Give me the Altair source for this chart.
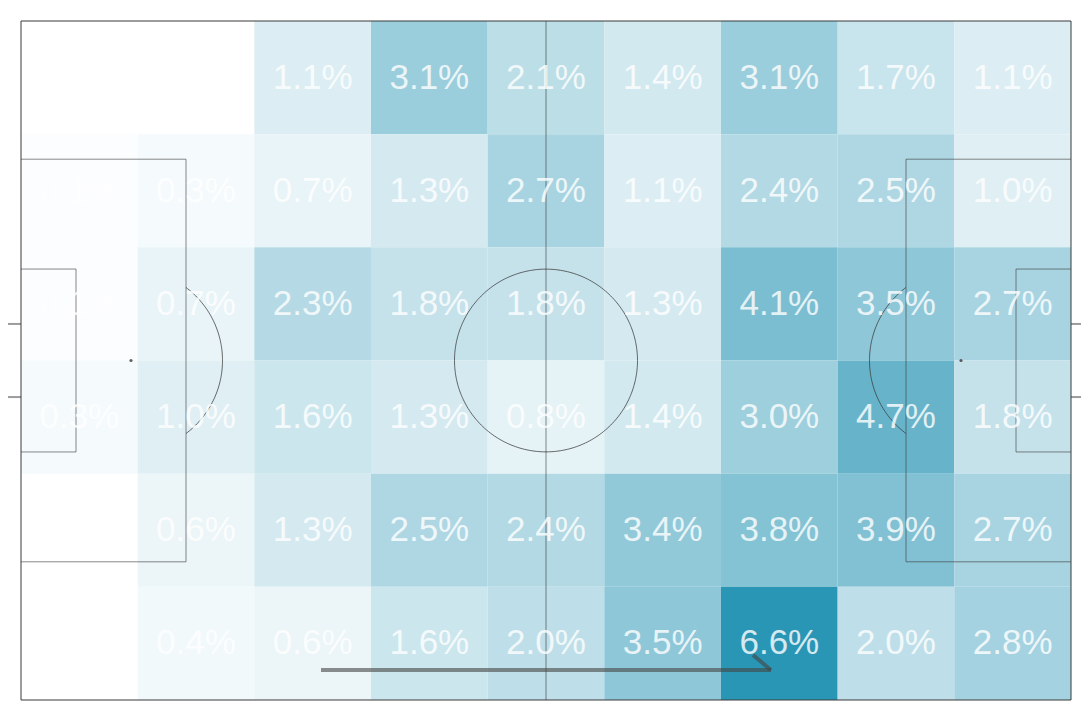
import altair as alt
import pandas as pd
import numpy as np

# ---- data: share of actions per zone (rows top->bottom, cols left->right), None = empty
row0 = [None, None, 1.1, 3.1, 2.1, 1.4, 3.1, 1.7, 1.1]
row1 = [0.1, 0.3, 0.7, 1.3, 2.7, 1.1, 2.4, 2.5, 1.0]
row2 = [0.1, 0.7, 2.3, 1.8, 1.8, 1.3, 4.1, 3.5, 2.7]
row3 = [0.3, 1.0, 1.6, 1.3, 0.8, 1.4, 3.0, 4.7, 1.8]
row4 = [None, 0.6, 1.3, 2.5, 2.4, 3.4, 3.8, 3.9, 2.7]
row5 = [None, 0.4, 0.6, 1.6, 2.0, 3.5, 6.6, 2.0, 2.8]
grid = [row0, row1, row2, row3, row4, row5]

# pitch dimensions (metres)
L, W = 105.0, 68.0
NC, NR = 9, 6

cells = []
for r, row in enumerate(grid):
    for c, v in enumerate(row):
        if v is None:
            continue
        cells.append({
            "x": c * L / NC, "x2": (c + 1) * L / NC,
            "y": r * W / NR, "y2": (r + 1) * W / NR,
            "xc": (c + 0.5) * L / NC, "yc": (r + 0.5) * W / NR,
            "v": v, "label": f"{v:.1f}%",
        })
cells = pd.DataFrame(cells)

xs = alt.Scale(domain=[0, L])
ys = alt.Scale(domain=[0, W], reverse=True)

heat = alt.Chart(cells).mark_rect(strokeWidth=0).encode(
    x=alt.X("x:Q", scale=xs, axis=None),
    x2="x2:Q",
    y=alt.Y("y:Q", scale=ys, axis=None),
    y2="y2:Q",
    color=alt.Color("v:Q", scale=alt.Scale(domain=[0, 6.6], range=["#ffffff", "#2a96b5"],
                                           interpolate="rgb"), legend=None),
)

# ---- pitch markings
def rect(x0, y0, x1, y1):
    return [(x0, y0, x1, y0), (x1, y0, x1, y1), (x1, y1, x0, y1), (x0, y1, x0, y0)]

outer = rect(0, 0, L, W)
outer += [(-1.8, 34 - 3.66, 0, 34 - 3.66), (-1.8, 34 + 3.66, 0, 34 + 3.66), (-1.8, 34 - 3.66, -1.8, 34 + 3.66)]
outer += [(L, 34 - 3.66, L + 1.8, 34 - 3.66), (L, 34 + 3.66, L + 1.8, 34 + 3.66), (L + 1.8, 34 - 3.66, L + 1.8, 34 + 3.66)]
inner = [(L / 2, 0, L / 2, W)]
inner += [s for s in rect(0, 34 - 20.16, 16.5, 34 + 20.16) if s[0] != 0 or s[2] != 0]
inner += [s for s in rect(L - 16.5, 34 - 20.16, L, 34 + 20.16) if s[0] != L or s[2] != L]
inner += [s for s in rect(0, 34 - 9.16, 5.5, 34 + 9.16) if s[0] != 0 or s[2] != 0]
inner += [s for s in rect(L - 5.5, 34 - 9.16, L, 34 + 9.16) if s[0] != L or s[2] != L]

def segs(lst):
    return pd.DataFrame(lst, columns=["x", "y", "x2", "y2"])

line_col = "#3a3a3a"

def rules(df, w, op):
    return alt.Chart(df).mark_rule(color=line_col, strokeWidth=w, opacity=op).encode(
        x=alt.X("x:Q", scale=xs), y=alt.Y("y:Q", scale=ys), x2="x2:Q", y2="y2:Q")

# circles / arcs
R = 9.15
curves = []
t = np.linspace(0, 2 * np.pi, 241)
for i, a in enumerate(t):
    curves.append({"g": "c", "o": i, "x": L / 2 + R * np.cos(a), "y": W / 2 + R * np.sin(a)})
lim = np.arccos(5.5 / R)
ta = np.linspace(-lim, lim, 80)
for i, a in enumerate(ta):
    curves.append({"g": "l", "o": i, "x": 11 + R * np.cos(a), "y": W / 2 + R * np.sin(a)})
    curves.append({"g": "r", "o": i, "x": L - 11 - R * np.cos(a), "y": W / 2 + R * np.sin(a)})
curves = pd.DataFrame(curves)

arcs = alt.Chart(curves).mark_line(color=line_col, strokeWidth=1, opacity=0.75).encode(
    x=alt.X("x:Q", scale=xs), y=alt.Y("y:Q", scale=ys), detail="g:N", order="o:Q")

spots = alt.Chart(pd.DataFrame({"x": [11, L - 11], "y": [34, 34]})).mark_point(
    filled=True, size=10, color=line_col, opacity=0.8).encode(
    x=alt.X("x:Q", scale=xs), y=alt.Y("y:Q", scale=ys))

# direction-of-play arrow
arrow = segs([(30, 65, 75, 65), (75, 65, 73.2, 63.5)])
arrow_l = alt.Chart(arrow).mark_rule(color="#444444", strokeWidth=4, opacity=0.6).encode(
    x=alt.X("x:Q", scale=xs), y=alt.Y("y:Q", scale=ys), x2="x2:Q", y2="y2:Q")

labels = alt.Chart(cells).mark_text(
    color="white", opacity=0.8, fontSize=35, font="Liberation Sans",
    align="center", baseline="middle").encode(
    x=alt.X("xc:Q", scale=xs), y=alt.Y("yc:Q", scale=ys), text="label:N")

chart = alt.layer(
    heat, rules(segs(outer), 2, 0.5), rules(segs(inner), 1, 0.6), arcs, spots, arrow_l, labels
).properties(
    width=1050, height=679, autosize="none",
    padding={"left": 13, "top": 13, "right": 10, "bottom": 5},
).configure_view(strokeWidth=0)

chart.save("out.html", embed_options={"renderer": "svg", "actions": False})
